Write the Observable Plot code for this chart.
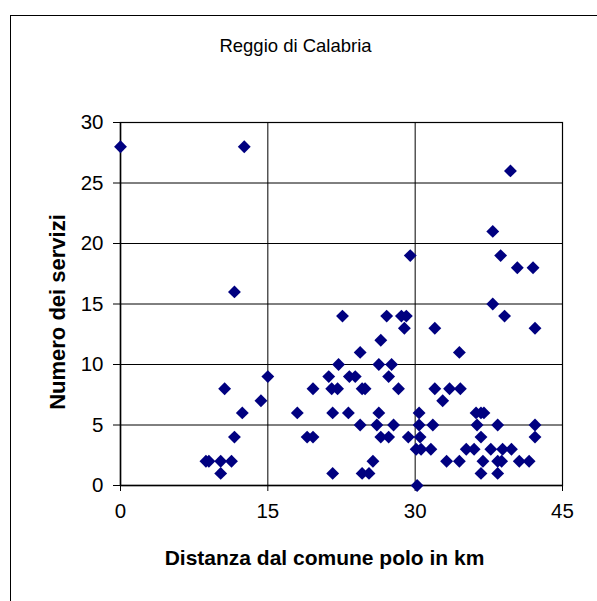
<!DOCTYPE html>
<html>
<head>
<meta charset="utf-8">
<script src="https://cdn.jsdelivr.net/npm/d3@7"></script>
<script src="https://cdn.jsdelivr.net/npm/@observablehq/plot@0.6"></script>
<style>
  html, body { margin: 0; padding: 0; background: #fff; }
  #wrap { position: relative; width: 597px; height: 601px; overflow: hidden; }
  #border { position: absolute; left: 10px; top: 15px; width: 620px; height: 620px; border-left: 1.5px solid #000; border-top: 1.5px solid #000; box-sizing: border-box; }
  #chart { position: absolute; left: 0; top: 0; }
</style>
</head>
<body>
<div id="wrap"><div id="border"></div><div id="chart"></div></div>
<script>
const title = "Reggio di Calabria";
const xLabel = "Distanza dal comune polo in km";
const yLabel = "Numero dei servizi";
const xTicks = [0, 15, 30, 45];
const yTicks = [0, 5, 10, 15, 20, 25, 30];

const distanza = [
  0, 12.6, 11.6, 29.5, 39.7, 37.9, 38.7, 40.4, 42.0, 37.9,
  15.0, 10.6, 14.3, 12.4, 11.6, 8.7, 9.0, 10.2, 11.3, 10.2,
  22.6, 27.1, 28.6, 29.1, 28.9, 26.5, 24.4, 22.2, 26.3, 27.6,
  21.2, 23.3, 23.9, 27.3, 19.6, 21.5, 22.1, 24.6, 24.9, 28.3,
  32.0, 33.5, 34.6, 18.0, 21.6, 23.2, 26.3, 30.4, 24.4, 26.1,
  27.8, 30.4, 19.0, 19.6, 26.5, 27.3, 29.3, 30.5, 30.1, 30.6,
  31.6, 25.7, 21.6, 24.6, 25.3, 30.2, 39.1, 32.0, 42.2, 34.5,
  32.8, 36.2, 36.7, 37.0, 31.8, 36.3, 38.4, 42.2, 36.7, 42.2,
  35.2, 36.0, 37.7, 38.9, 39.8, 33.2, 34.5, 36.9, 38.4, 38.8,
  40.6, 41.6, 36.7, 38.4
];
const servizi = [
  28, 28, 16, 19, 26, 21, 19, 18, 18, 15,
  9, 8, 7, 6, 4, 2, 2, 2, 2, 1,
  14, 14, 14, 14, 13, 12, 11, 10, 10, 10,
  9, 9, 9, 9, 8, 8, 8, 8, 8, 8,
  8, 8, 8, 6, 6, 6, 6, 6, 5, 5,
  5, 5, 4, 4, 4, 4, 4, 4, 3, 3,
  3, 2, 1, 1, 1, 0, 14, 13, 13, 11,
  7, 6, 6, 6, 5, 5, 5, 5, 4, 4,
  3, 3, 3, 3, 3, 2, 2, 2, 2, 2,
  2, 2, 1, 1
];

const data = distanza.map((d, i) => ({x: d, y: servizi[i]}));
const font = "'Liberation Sans', Arial, sans-serif";

const chart = Plot.plot({
  width: 597,
  height: 601,
  marginLeft: 120,
  marginRight: 35,
  marginTop: 122,
  marginBottom: 116,
  style: {fontFamily: font, fontSize: "20px", background: "transparent", color: "#000"},
  x: {domain: [0, 45]},
  y: {domain: [0, 30]},
  marks: [
    Plot.frame({stroke: "#999", strokeWidth: 1.5}),
    Plot.gridY(yTicks, {stroke: "#000", strokeOpacity: 1, strokeWidth: 1}),
    Plot.gridX(xTicks, {stroke: "#000", strokeOpacity: 1, strokeWidth: 1}),
    Plot.ruleX([0], {stroke: "#000", strokeWidth: 1.5}),
    Plot.ruleY([0], {stroke: "#000", strokeWidth: 1.5}),
    Plot.axisY(yTicks, {tickSize: 7, tickPadding: 10, fontSize: 20.5, label: null, tickFormat: d => String(d)}),
    Plot.axisX(xTicks, {tickSize: 6, tickPadding: 12, fontSize: 20.5, label: null, tickFormat: d => String(d)}),
    Plot.dot(data, {x: "x", y: "y", symbol: "diamond2", r: 5.8, fill: "#000080", stroke: "none"}),
    Plot.text([title], {frameAnchor: "top", dy: -76, dx: -46, text: d => d, fontSize: 18.5, lineAnchor: "middle", fill: "#000"}),
    Plot.text([yLabel], {frameAnchor: "left", textAnchor: "middle", rotate: -90, dx: -63, dy: 8, text: d => d, fontSize: 22, fontWeight: "bold", lineAnchor: "middle", fill: "#000"}),
    Plot.text([xLabel], {frameAnchor: "bottom", dy: 73, dx: -17, text: d => d, fontSize: 21, fontWeight: "bold", lineAnchor: "middle", fill: "#000"})
  ]
});
document.getElementById("chart").appendChild(chart);
</script>
</body>
</html>
